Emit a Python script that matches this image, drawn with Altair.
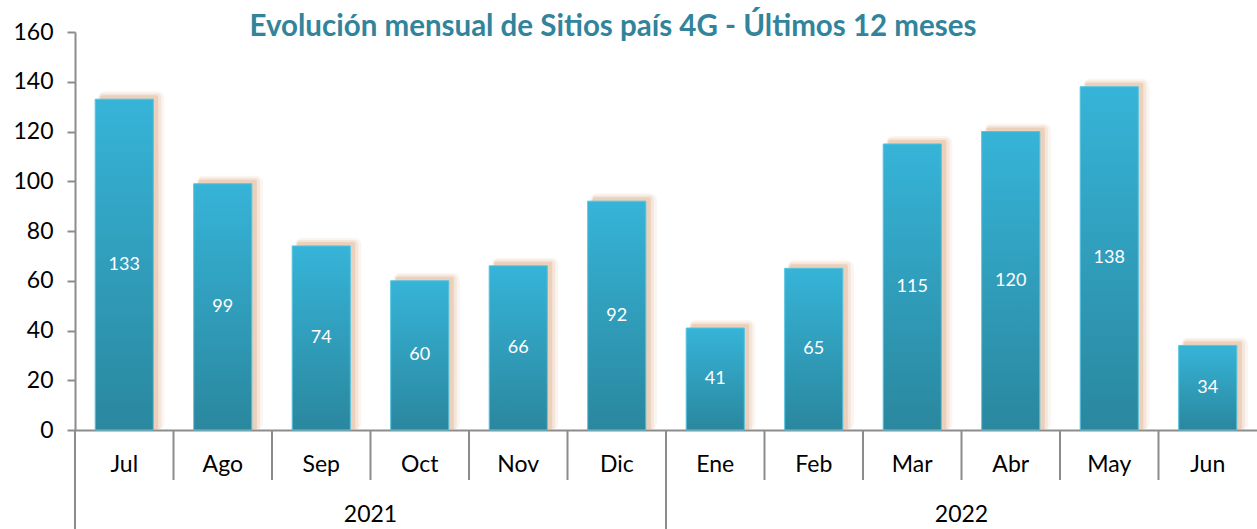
import altair as alt
import pandas as pd

months = ["Jul", "Ago", "Sep", "Oct", "Nov", "Dic", "Ene", "Feb", "Mar", "Abr", "May", "Jun"]
values = [133, 99, 74, 60, 66, 92, 41, 65, 115, 120, 138, 34]
years = ["2021", "2022"]
months_per_year = [6, 6]
title_text = "Evolución mensual de Sitios país 4G - Últimos 12 meses"

FONT = "Lato"
W, H = 1182, 398

df = pd.DataFrame({"month": months, "value": values})
df["half"] = df["value"] / 2

# boundaries (in month-index units)
month_bounds = list(range(1, len(months)))
year_bounds = [0]
for c in months_per_year:
    year_bounds.append(year_bounds[-1] + c)
year_mids = [(year_bounds[i] + year_bounds[i + 1]) / 2 for i in range(len(years))]

mb_df = pd.DataFrame({"pos": [b for b in month_bounds if b not in year_bounds]})
yb_df = pd.DataFrame({"pos": year_bounds[:-1]})
yl_df = pd.DataFrame({"pos": year_mids, "year": years})

xs = alt.Scale(domain=months, paddingInner=0.41, paddingOuter=0.205)
ys = alt.Scale(domain=[0, 160])

base = alt.Chart(df)

x_axis = alt.Axis(title=None, labelAngle=0, labelAlign="center", labelBaseline="middle", labelFont=FONT,
                  labelFontSize=23, labelColor="#000000", labelPadding=34, ticks=False, tickSize=0,
                  domainColor="#8C8C8C", domainWidth=2)
y_axis = alt.Axis(title=None, values=list(range(0, 161, 20)), grid=False, labelFont=FONT,
                  labelFontSize=23, labelColor="#000000", labelPadding=14, tickSize=8,
                  tickColor="#8C8C8C", tickWidth=2, domainColor="#8C8C8C", domainWidth=2)


def shadow(dx, dy, rel, op, rad, axes=False):
    return base.mark_bar(color="#DDB08E", opacity=op, xOffset=dx, yOffset=dy, y2Offset=0,
                         cornerRadius=rad, width=alt.RelativeBandSize(rel)).encode(
        x=alt.X("month:N", scale=xs, sort=months, axis=x_axis if axes else alt.Undefined),
        y=alt.Y("value:Q", scale=ys, axis=y_axis if axes else alt.Undefined),
        y2=alt.datum(0),
    )


s3 = shadow(7, -8, 1.14, 0.12, 7, axes=True)
s2 = shadow(6, -6, 1.07, 0.22, 4)
s1 = shadow(5, -4, 1.0, 0.4, 2)

bars = base.mark_bar(
    color=alt.Gradient(
        gradient="linear", x1=0, x2=0, y1=0, y2=1,
        stops=[alt.GradientStop(color="#36B4D8", offset=0), alt.GradientStop(color="#2A879E", offset=1)],
    ),
    stroke="#56C3E0", strokeWidth=1, width=alt.RelativeBandSize(1.0),
).encode(
    x=alt.X("month:N", scale=xs, sort=months),
    y=alt.Y("value:Q", scale=ys),
)
labels = base.mark_text(color="white", font=FONT, fontSize=18, baseline="middle").encode(
    x=alt.X("month:N", scale=xs, sort=months),
    y=alt.Y("half:Q", scale=ys),
    text=alt.Text("value:Q"),
)

main = alt.layer(s3, s2, s1, bars, labels)

qx = alt.Scale(domain=[0, len(months)])
msep = alt.Chart(mb_df).mark_rule(color="#8C8C8C", strokeWidth=2).encode(
    x=alt.X("pos:Q", scale=qx, axis=None),
    y=alt.value(H), y2=alt.value(H + 50),
)
ysep = alt.Chart(yb_df).mark_rule(color="#8C8C8C", strokeWidth=2).encode(
    x=alt.X("pos:Q", scale=qx, axis=None),
    y=alt.value(H), y2=alt.value(H + 99),
)
ylab = alt.Chart(yl_df).mark_text(font=FONT, fontSize=23, color="#000000", baseline="middle").encode(
    x=alt.X("pos:Q", scale=qx, axis=None),
    y=alt.value(H + 85),
    text="year:N",
)
title = alt.Chart(pd.DataFrame({"t": [title_text]})).mark_text(
    font=FONT, fontSize=29.5, fontWeight="bold", color="#31849B", baseline="middle"
).encode(x=alt.value(538), y=alt.value(-5), text="t:N")

chart = alt.layer(main, msep, ysep, ylab, title).resolve_scale(x="independent").properties(
    width=W, height=H,
    padding={"left": 75, "top": 32, "right": 0, "bottom": 99},
    autosize=alt.AutoSizeParams(type="none"),
).configure_view(stroke=None)

chart.save("out.html", embed_options={"renderer": "svg", "actions": False})
